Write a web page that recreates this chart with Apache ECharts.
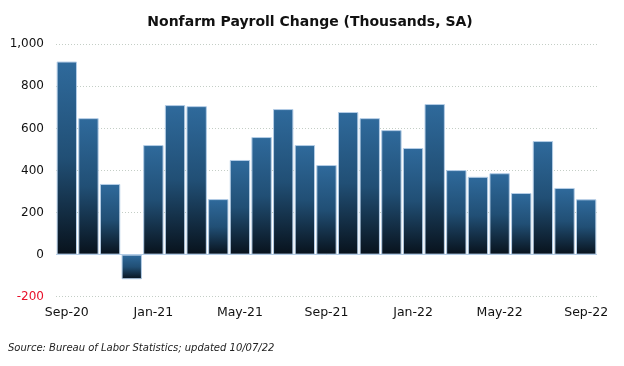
<!DOCTYPE html>
<html>
<head>
<meta charset="utf-8">
<script src="https://cdn.jsdelivr.net/npm/echarts@6/dist/echarts.min.js"></script>
<style>
html,body{margin:0;padding:0;background:#fff;}
#c{width:624px;height:366px;}
</style>
</head>
<body>
<div id="c"></div>
<script>
var categories = ['Sep-20','Oct-20','Nov-20','Dec-20','Jan-21','Feb-21','Mar-21','Apr-21','May-21','Jun-21','Jul-21','Aug-21','Sep-21','Oct-21','Nov-21','Dec-21','Jan-22','Feb-22','Mar-22','Apr-22','May-22','Jun-22','Jul-22','Aug-22','Sep-22'];
var payrollChange = [918, 649, 336, -117, 521, 711, 706, 264, 450, 559, 692, 521, 426, 678, 649, 592, 507, 716, 402, 370, 387, 293, 540, 317, 263];
var yTicks = [-200, 0, 200, 400, 600, 800, 1000];

var chart = echarts.init(document.getElementById('c'), null, {renderer:'canvas'});
var fontFam = 'DejaVu Sans, Verdana, sans-serif';
chart.setOption({
  animation: false,
  backgroundColor: '#fff',
  title: [{
    text: 'Nonfarm Payroll Change (Thousands, SA)',
    left: 310, top: 15, padding: 0, textAlign: 'center',
    textStyle: {fontFamily: fontFam, fontWeight: 'bold', fontSize: 14, color: '#111'}
  },{
    text: 'Source: Bureau of Labor Statistics; updated 10/07/22',
    left: 8, top: 343, padding: 0,
    textStyle: {fontFamily: fontFam, fontStyle: 'italic', fontWeight: 'normal', fontSize: 10, color: '#222'}
  }],
  grid: {left: 56, right: 27, top: 44.3, bottom: 69.3, containLabel: false},
  xAxis: {
    type: 'category',
    data: categories,
    axisLine: {show: false},
    axisTick: {show: false},
    axisLabel: {interval: 3, margin: 10, fontFamily: fontFam, fontSize: 12.5, color: '#111'}
  },
  yAxis: {
    type: 'value',
    min: yTicks[0], max: yTicks[yTicks.length-1], interval: 200,
    axisLine: {show: false},
    axisTick: {show: false},
    splitLine: {lineStyle: {type: [1, 2], color: '#c4cec6', width: 1}},
    axisLabel: {
      margin: 12, fontFamily: fontFam, fontSize: 12,
      formatter: function(v){ return v.toLocaleString('en-US'); },
      color: function(v){ return Number(v) < 0 ? '#e8102a' : '#111'; }
    }
  },
  series: [{
    type: 'bar',
    data: payrollChange,
    barCategoryGap: '6%',
    itemStyle: {
      borderColor: '#b4cde6',
      borderWidth: 1,
      color: new echarts.graphic.LinearGradient(0, 0, 0, 1, [
        {offset: 0, color: '#2f6a9c'},
        {offset: 0.5, color: '#214f75'},
        {offset: 1, color: '#08121c'}
      ])
    },
    markLine: {
      silent: true, symbol: 'none', label: {show: false},
      lineStyle: {color: '#b4cde6', type: 'solid', width: 1},
      data: [{yAxis: 0}]
    }
  }]
});
</script>
</body>
</html>
